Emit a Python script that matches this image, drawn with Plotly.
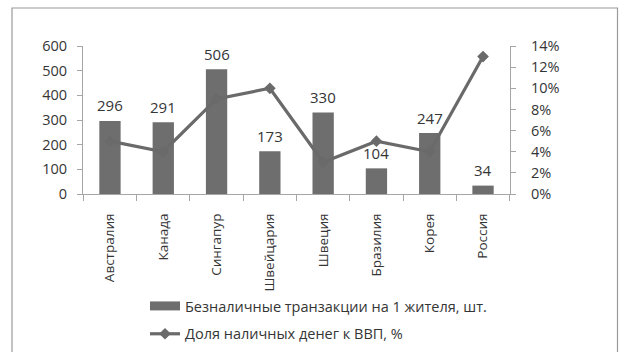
import plotly.graph_objects as go

# Data
countries = ["Австралия", "Канада", "Сингапур", "Швейцария", "Швеция", "Бразилия", "Корея", "Россия"]
cashless_tx = [296, 291, 506, 173, 330, 104, 247, 34]
cash_share_pct = [5, 4, 9, 10, 3, 5, 4, 13]

bar_name = "Безналичные транзакции на 1 жителя, шт."
line_name = "Доля наличных денег к ВВП, %"

W, H = 619, 352
FONT = "Open Sans"
TXT = "#353535"
AXC = "#a6a6a6"
BAR_C = "#6e6e6e"
LINE_C = "#6a6a6a"


def px(x):
    return x / W


def py(y):
    return 1 - y / H


fig = go.Figure()

fig.add_trace(go.Bar(
    x=countries, y=cashless_tx, name=bar_name,
    marker=dict(color=BAR_C, line=dict(width=0)),
    showlegend=False,
))

# legend key for the bars: a wide flat swatch
fig.add_trace(go.Scatter(
    x=[None], y=[None], name=bar_name, mode="lines",
    line=dict(color=BAR_C, width=9),
    legendgroup="a", hoverinfo="skip",
))

fig.add_trace(go.Scatter(
    x=countries, y=[v / 100 for v in cash_share_pct], name=line_name,
    yaxis="y2", mode="lines+markers",
    line=dict(color=LINE_C, width=3.2),
    marker=dict(symbol="diamond", size=9, color=LINE_C),
    legendgroup="b",
))

# value labels above bars
for c, v in zip(countries, cashless_tx):
    fig.add_annotation(x=c, y=v, text=str(v), showarrow=False,
                       yanchor="middle", yshift=15.5,
                       font=dict(family=FONT, size=15, color=TXT))

# outer frame
fig.add_shape(type="rect", xref="paper", yref="paper",
              x0=px(12), x1=px(617.5), y0=-0.05, y1=py(8),
              line=dict(color="#9a9a9a", width=1.2), layer="below")

fig.update_layout(
    width=W, height=H,
    margin=dict(l=0, r=0, t=0, b=0, autoexpand=False),
    paper_bgcolor="white", plot_bgcolor="white",
    font=dict(family=FONT, size=14, color=TXT),
    bargap=0.6,
    showlegend=True,
    legend=dict(x=px(145), y=py(290), xanchor="left", yanchor="top",
                font=dict(family=FONT, size=14.5, color=TXT),
                itemwidth=30,
                tracegroupgap=6, bgcolor="rgba(0,0,0,0)"),
    xaxis=dict(domain=[px(83), px(510)], type="category", automargin=False,
               showline=True, linecolor=AXC, linewidth=1.2,
               ticks="outside", tickson="boundaries", ticklen=6, tickcolor=AXC,
               tickangle=-90, ticklabelstandoff=13,
               tickfont=dict(family=FONT, size=13.5, color=TXT),
               showgrid=False, zeroline=False, fixedrange=True),
    yaxis=dict(domain=[py(194), py(46)], range=[0, 600], dtick=100,
               automargin=False,
               showline=True, linecolor=AXC, linewidth=1.2,
               ticks="outside", ticklen=5, tickcolor=AXC,
               ticklabelstandoff=7,
               tickfont=dict(family=FONT, size=14.5, color=TXT),
               showgrid=False, zeroline=False),
    yaxis2=dict(overlaying="y", side="right", anchor="x",
                range=[0, 0.14], dtick=0.02, tickformat=".0%",
                automargin=False,
                showline=True, linecolor=AXC, linewidth=1.2,
                ticks="outside", ticklen=5, tickcolor=AXC,
                ticklabelstandoff=12,
                tickfont=dict(family=FONT, size=14.5, color=TXT),
                showgrid=False, zeroline=False),
)

fig.write_html("out.html")
